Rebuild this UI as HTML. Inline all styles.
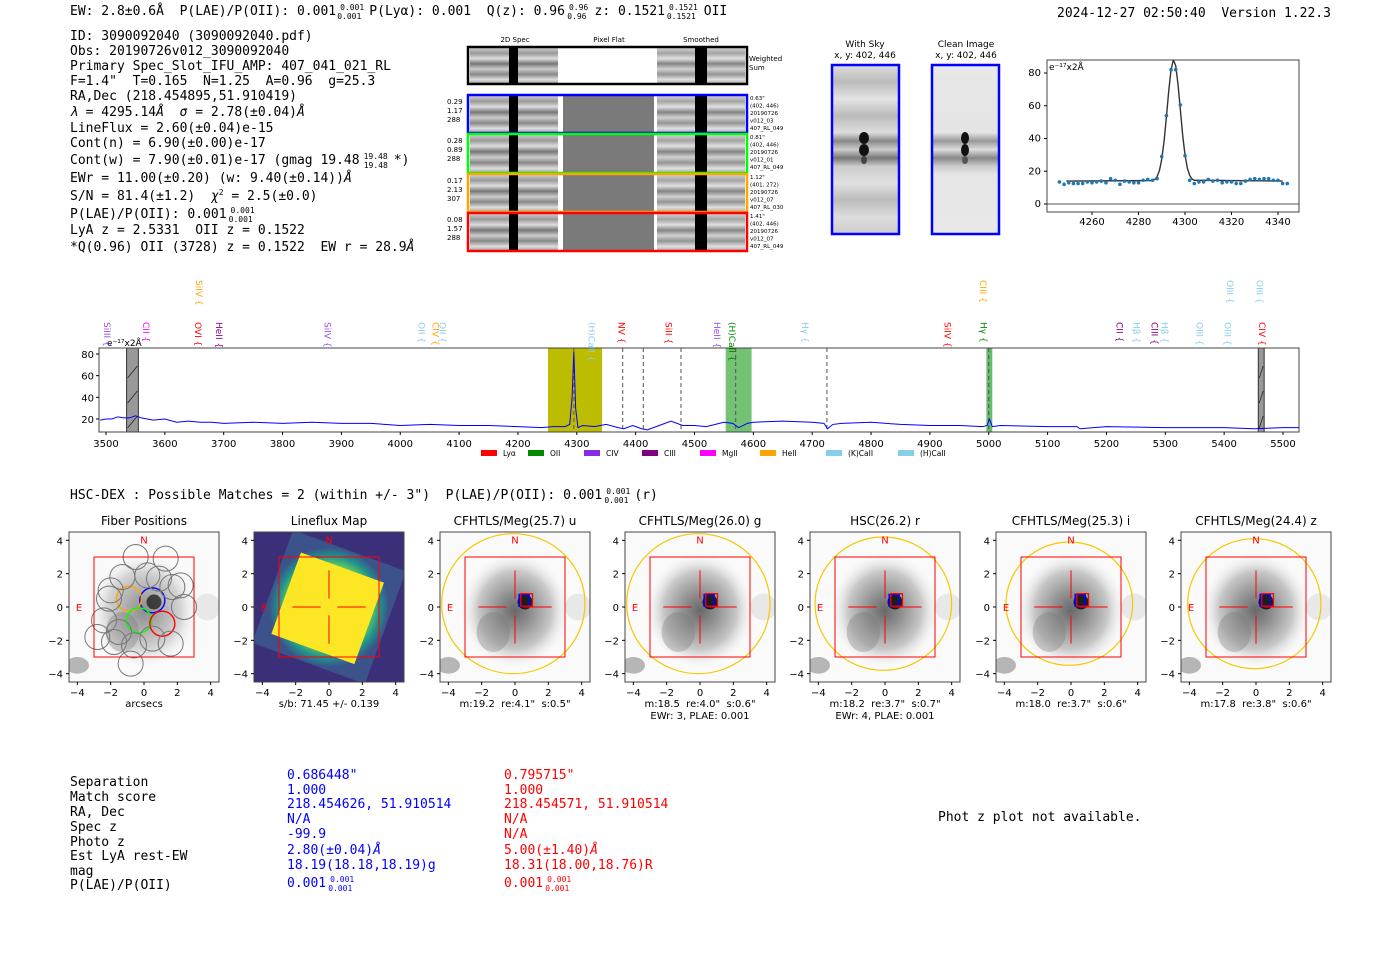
<!DOCTYPE html>
<html><head><meta charset="utf-8"><style>
html,body{margin:0;padding:0;background:#fff;width:1400px;height:953px;overflow:hidden}
svg{display:block}
text{white-space:pre}
.m{font-family:"DejaVu Sans Mono","Liberation Mono",monospace;font-size:13px;fill:#000;white-space:pre}
.s{font-family:"DejaVu Sans","Liberation Sans",sans-serif}
.tk{font-family:"DejaVu Sans","Liberation Sans",sans-serif;font-size:10px;fill:#000}
</style></head><body>
<svg id="root" width="1400" height="953" viewBox="0 0 1400 953" xmlns="http://www.w3.org/2000/svg" xml:space="preserve">
<defs>
<linearGradient id="bands" x1="0" y1="0" x2="0" y2="1">
<stop offset="0" stop-color="#ccc"/><stop offset=".15" stop-color="#999"/><stop offset=".3" stop-color="#ddd"/><stop offset=".45" stop-color="#777"/><stop offset=".6" stop-color="#ccc"/><stop offset=".75" stop-color="#888"/><stop offset=".9" stop-color="#ddd"/><stop offset="1" stop-color="#aaa"/>
</linearGradient>
<linearGradient id="skyb" x1="0" y1="0" x2="0" y2="1">
<stop offset="0" stop-color="#ddd"/><stop offset=".1" stop-color="#bbb"/><stop offset=".2" stop-color="#e4e4e4"/><stop offset=".3" stop-color="#bbb"/><stop offset=".4" stop-color="#ddd"/><stop offset=".45" stop-color="#888"/><stop offset=".5" stop-color="#ccc"/><stop offset=".55" stop-color="#777"/><stop offset=".6" stop-color="#ccc"/><stop offset=".7" stop-color="#e0e0e0"/><stop offset=".8" stop-color="#bbb"/><stop offset=".9" stop-color="#ddd"/><stop offset="1" stop-color="#ccc"/>
</linearGradient>
<linearGradient id="cleanb" x1="0" y1="0" x2="0" y2="1">
<stop offset="0" stop-color="#e8e8e8"/><stop offset=".4" stop-color="#e4e4e4"/><stop offset=".45" stop-color="#999"/><stop offset=".5" stop-color="#ddd"/><stop offset=".55" stop-color="#888"/><stop offset=".6" stop-color="#ccc"/><stop offset=".65" stop-color="#e6e6e6"/><stop offset="1" stop-color="#e8e8e8"/>
</linearGradient>
<radialGradient id="gal"><stop offset="0" stop-color="#444"/><stop offset=".3" stop-color="#777"/><stop offset=".65" stop-color="#bbb"/><stop offset="1" stop-color="#fff" stop-opacity="0"/></radialGradient>
<radialGradient id="lf"><stop offset="0" stop-color="#fde725"/><stop offset=".55" stop-color="#fde725"/><stop offset=".7" stop-color="#5ec962"/><stop offset=".85" stop-color="#21918c"/><stop offset="1" stop-color="#3b528b"/></radialGradient>
</defs>

<g>
<text class="m" x="70" y="15">EW: 2.8±0.6Å  P(LAE)/P(OII): 0.001<tspan font-size="8" dx="4" dy="-5">0.001</tspan><tspan font-size="8" dx="-27" dy="9">0.001</tspan><tspan dx="8" dy="-4">P(Lyα): 0.001  Q(z): 0.96</tspan><tspan font-size="8" dx="4" dy="-5">0.96</tspan><tspan font-size="8" dx="-21" dy="9">0.96</tspan><tspan dx="8" dy="-4">z: 0.1521</tspan><tspan font-size="8" dx="4" dy="-5">0.1521</tspan><tspan font-size="8" dx="-31" dy="9">0.1521</tspan><tspan dx="8" dy="-4">OII</tspan></text>
<text class="m" x="1057" y="17">2024-12-27 02:50:40  Version 1.22.3</text>
</g>

<g>
<text class="m" x="70" y="40">ID: 3090092040 (3090092040.pdf)</text>
<text class="m" x="70" y="55">Obs: 20190726v012_3090092040</text>
<text class="m" x="70" y="70">Primary Spec_Slot_IFU_AMP: 407_041_021_RL</text>
<text class="m" x="70" y="85">F=1.4"  T=0.165  N=1.25  A=0.96  g=25.3</text>
<text class="m" x="70" y="100">RA,Dec (218.454895,51.910419)</text>
<text class="m" x="70" y="116"><tspan font-style="italic">λ</tspan> = 4295.14<tspan font-style="italic">Å</tspan>  <tspan font-style="italic">σ</tspan> = 2.78(±0.04)<tspan font-style="italic">Å</tspan></text>
<text class="m" x="70" y="132">LineFlux = 2.60(±0.04)e-15</text>
<text class="m" x="70" y="147">Cont(n) = 6.90(±0.00)e-17</text>
<text class="m" x="70" y="164">Cont(w) = 7.90(±0.01)e-17 (gmag 19.48<tspan font-size="8" dx="4" dy="-5">19.48</tspan><tspan font-size="8" dx="-24" dy="9">19.48</tspan><tspan dx="6" dy="-4">*)</tspan></text>
<text class="m" x="70" y="182">EWr = 11.00(±0.20) (w: 9.40(±0.14))<tspan font-style="italic">Å</tspan></text>
<text class="m" x="70" y="200">S/N = 81.4(±1.2)  <tspan font-style="italic">χ</tspan><tspan font-size="8" dy="-5">2</tspan><tspan dy="5"> = 2.5(±0.0)</tspan></text>
<text class="m" x="70" y="218">P(LAE)/P(OII): 0.001<tspan font-size="8" dx="4" dy="-5">0.001</tspan><tspan font-size="8" dx="-26" dy="9">0.001</tspan></text>
<text class="m" x="70" y="234">LyA z = 2.5331  OII z = 0.1522</text>
<text class="m" x="70" y="251">*Q(0.96) OII (3728) z = 0.1522  EW r = 28.9<tspan font-style="italic">Å</tspan></text>
</g>

<g id="cutouts" class="s">
<text x="515" y="42" font-size="7" text-anchor="middle">2D Spec</text>
<text x="609" y="42" font-size="7" text-anchor="middle">Pixel Flat</text>
<text x="701" y="42" font-size="7" text-anchor="middle">Smoothed</text>
<text x="749" y="61" font-size="7">Weighted</text>
<text x="749" y="70" font-size="7">Sum</text>
</g>

<g class="s">
<text x="865" y="47" font-size="9" text-anchor="middle">With Sky</text>
<text x="865" y="58" font-size="9" text-anchor="middle">x, y: 402, 446</text>
<rect x="832" y="65" width="67" height="169" fill="url(#skyb)"/>
<ellipse cx="864" cy="138" rx="5" ry="6" fill="#111"/><ellipse cx="864" cy="150" rx="5" ry="6" fill="#111"/><ellipse cx="864" cy="160" rx="3" ry="4" fill="#444"/>
<rect x="832" y="65" width="67" height="169" fill="none" stroke="#00f" stroke-width="2.5"/>
</g>
<g class="s">
<text x="966" y="47" font-size="9" text-anchor="middle">Clean Image</text>
<text x="966" y="58" font-size="9" text-anchor="middle">x, y: 402, 446</text>
<rect x="932" y="65" width="67" height="169" fill="url(#cleanb)"/>
<ellipse cx="965" cy="138" rx="4" ry="6" fill="#111"/><ellipse cx="965" cy="150" rx="4" ry="6" fill="#111"/><ellipse cx="965" cy="160" rx="3" ry="4" fill="#555"/>
<rect x="932" y="65" width="67" height="169" fill="none" stroke="#00f" stroke-width="2.5"/>
</g>

<g id="inset"></g>
<g id="spec"></g>

<text class="m" x="70" y="499">HSC-DEX : Possible Matches = 2 (within +/- 3")  P(LAE)/P(OII): 0.001<tspan font-size="8" dx="4" dy="-5">0.001</tspan><tspan font-size="8" dx="-26" dy="9">0.001</tspan><tspan dx="6" dy="-4">(r)</tspan></text>
<g id="panels"></g>

<g>
<g class="m">
<text class="m" x="70" y="786">Separation</text><text class="m" x="70" y="801">Match score</text><text class="m" x="70" y="816">RA, Dec</text><text class="m" x="70" y="831">Spec z</text><text class="m" x="70" y="846">Photo z</text><text class="m" x="70" y="860">Est LyA rest-EW</text><text class="m" x="70" y="875">mag</text><text class="m" x="70" y="889">P(LAE)/P(OII)</text>
</g>
<g>
<text class="m" x="287" y="779" style="fill:#00f">0.686448"</text><text class="m" x="287" y="794" style="fill:#00f">1.000</text><text class="m" x="287" y="808" style="fill:#00f">218.454626, 51.910514</text><text class="m" x="287" y="823" style="fill:#00f">N/A</text><text class="m" x="287" y="838" style="fill:#00f">-99.9</text><text class="m" x="287" y="854" style="fill:#00f">2.80(±0.04)<tspan font-style="italic">Å</tspan></text><text class="m" x="287" y="869" style="fill:#00f">18.19(18.18,18.19)g</text><text class="m" x="287" y="887" style="fill:#00f">0.001<tspan font-size="8" dx="4" dy="-5">0.001</tspan><tspan font-size="8" dx="-26" dy="9">0.001</tspan></text>
</g>
<g>
<text class="m" x="504" y="779" style="fill:#f00">0.795715"</text><text class="m" x="504" y="794" style="fill:#f00">1.000</text><text class="m" x="504" y="808" style="fill:#f00">218.454571, 51.910514</text><text class="m" x="504" y="823" style="fill:#f00">N/A</text><text class="m" x="504" y="838" style="fill:#f00">N/A</text><text class="m" x="504" y="854" style="fill:#f00">5.00(±1.40)<tspan font-style="italic">Å</tspan></text><text class="m" x="504" y="869" style="fill:#f00">18.31(18.00,18.76)R</text><text class="m" x="504" y="887" style="fill:#f00">0.001<tspan font-size="8" dx="4" dy="-5">0.001</tspan><tspan font-size="8" dx="-26" dy="9">0.001</tspan></text>
</g>
<text class="m" x="938" y="821">Phot z plot not available.</text>
</g>
</svg>
<script>
const specWave = [3490,3500,3510,3520,3530,3540,3550,3560,3580,3600,3620,3640,3660,3680,3700,3750,3800,3850,3900,3950,4000,4050,4100,4150,4200,4240,4260,4280,4288,4292,4295,4298,4302,4310,4330,4350,4370,4380,4395,4410,4420,4440,4460,4480,4500,4520,4550,4565,4575,4590,4600,4650,4700,4720,4726,4735,4750,4800,4850,4900,4950,4990,4997,5001,5006,5020,5100,5150,5155,5200,5300,5400,5450,5500,5527];
const specFlux = [19,20,20,22,21,21,23,21,19,20,17,18,17,17,16,17,16,17,16,16,14,15,14,14,13,12,13,13,15,40,82,30,12,14,13,15,12,11,14,11,10,14,18,14,14,13,17,16,12,16,17,18,17,16,11,15,16,17,15,14,14,13,14,20,13,14,13,13,11,13,12,12,11,12,12];
const specXTicks = [3500,3600,3700,3800,3900,4000,4100,4200,4300,4400,4500,4600,4700,4800,4900,5000,5100,5200,5300,5400,5500];
const specYTicks = [20,40,60,80];
const lineNames = ["SiIII","CII","OVI","HeII","SiIV","OII","CIV","OII","(H)CaII","NV","SiII","HeII","(H)CaII","Hγ","SiIV","Hγ","CII","Hβ","CIII","Hβ","OIII","OIII","CIV","SiIV","CIII","OIII","OIII"];
const lineWave = [3502,3568,3656,3692,3876,4036,4060,4072,4325,4376,4456,4538,4564,4688,4930,4991,5222,5251,5282,5299,5358,5406,5464,3658,4990,5410,5460];
const lineRow = [0,0,0,0,0,0,0,0,0,0,0,0,0,0,0,0,0,0,0,0,0,0,0,1,1,1,1];
const lineColor = ["#9b4ee8","#f0f","#f00","#8b008b","#9b4ee8","#87ceeb","#ffa500","#87ceeb","#87ceeb","#f00","#f00","#9b4ee8","#080","#87ceeb","#f00","#080","#800080","#87ceeb","#800080","#87ceeb","#87ceeb","#87ceeb","#f00","#ffa500","#ffa500","#87ceeb","#87ceeb"];
const dashWave = [4295,4378,4413,4477,4570,4725,5000];
const legendNames = ["Lyα","OII","CIV","CIII","MgII","HeII","(K)CaII","(H)CaII"];
const legendColors = ["#f00","#080","#8a2be2","#800080","#f0f","#ffa500","#87ceeb","#87ceeb"];

const fitWave = [4246,4248,4250,4252,4254,4256,4258,4260,4262,4264,4266,4268,4270,4272,4274,4276,4278,4280,4282,4284,4286,4288,4290,4292,4294,4296,4298,4300,4302,4304,4306,4308,4310,4312,4314,4316,4318,4320,4322,4324,4326,4328,4330,4332,4334,4336,4338,4340,4342,4344];
const fitFlux = [13.5,12,13,12.5,12.5,12.5,13.5,13,13.5,14,13,15.5,14.5,12,14,13.5,13,13,14.5,15,14.5,15.5,29,54,82,82,60.5,29.5,14.5,12.5,13.5,13.5,15,14,14.5,13,13.5,13.5,12.5,12.5,14,15,15.5,15,15.5,15.5,14.5,14.5,12.5,12.5];
const modelWave = [4249,4286,4287,4288,4289,4290,4291,4292,4293,4294,4295,4296,4297,4298,4299,4300,4301,4302,4303,4304,4342];
const modelFlux = [14,14.3,15,16.7,20.4,27.4,38.4,53,69,82,88,84.5,73,57.6,42,30,22,17.5,15.3,14.5,14];
const insetXTicks = [4260,4280,4300,4320,4340];
const insetYTicks = [0,20,40,60,80];

const NS='http://www.w3.org/2000/svg';
function mk(parent, tag, attrs, txt){
  const el=document.createElementNS(NS,tag);
  for(const k in attrs) el.setAttribute(k,attrs[k]);
  if(txt!==undefined) el.textContent=txt;
  parent.appendChild(el);
  return el;
}

(function(){
  const g=document.getElementById('cutouts');
  const rows=[{y:47,h:37,c:'#000',l:null,r:null},
    {y:95,h:38,c:'#00f',l:['0.29','1.17','288'],r:['0.63"','(402, 446)','20190726','v012_03','407_RL_049']},
    {y:134,h:39,c:'#0f0',l:['0.28','0.89','288'],r:['0.81"','(402, 446)','20190726','v012_01','407_RL_049']},
    {y:174,h:38,c:'#ffa500',l:['0.17','2.13','307'],r:['1.12"','(401, 272)','20190726','v012_07','407_RL_030']},
    {y:213,h:38,c:'#f00',l:['0.08','1.57','288'],r:['1.41"','(402, 446)','20190726','v012_07','407_RL_049']}];
  rows.forEach((r,i)=>{
    const cell=mk(g,'g',{});
    
    
    mk(cell,'rect',{x:470,y:r.y+1,width:88,height:r.h-2,fill:'url(#bands)'});
    mk(cell,'rect',{x:509,y:r.y+1,width:9,height:r.h-2,fill:'#000'});
    mk(cell,'rect',{x:563,y:r.y+1,width:91,height:r.h-2,fill:i===0?'#fff':'#7a7a7a'});
    mk(cell,'rect',{x:657,y:r.y+1,width:88,height:r.h-2,fill:'url(#bands)',opacity:0.9});
    mk(cell,'rect',{x:695,y:r.y+1,width:12,height:r.h-2,fill:'#000'});
    mk(cell,'rect',{x:468,y:r.y,width:279,height:r.h,fill:'none',stroke:r.c,'stroke-width':2.5});
    if(r.l) r.l.forEach((t,j)=>mk(cell,'text',{x:447,y:r.y+9+j*9,'font-size':7},t));
    if(r.r) r.r.forEach((t,j)=>mk(cell,'text',{x:750,y:r.y+5+j*7.5,'font-size':5.5},t));
  });
})();

(function(){
  const g=document.getElementById('inset');
  const L=1047,R=1299,T=60,B=212;
  const x=w=>1092+(w-4260)*(1278-1092)/80;
  const y=v=>204-v*(204-73)/80;
  mk(g,'rect',{x:L,y:T,width:R-L,height:B-T,fill:'#fff',stroke:'#444','stroke-width':1});
  mk(g,'line',{x1:L,x2:R,y1:y(0),y2:y(0),stroke:'#555','stroke-width':1});
  insetXTicks.forEach(t=>{mk(g,'line',{x1:x(t),x2:x(t),y1:B,y2:B+3,stroke:'#000'});
    const tx=mk(g,'text',{class:'tk',x:x(t),y:B+13,'text-anchor':'middle','font-size':9},String(t));
    
    });
  insetYTicks.forEach(t=>{mk(g,'line',{x1:L-3,x2:L,y1:y(t),y2:y(t),stroke:'#000'});
    const ty=mk(g,'text',{class:'tk',x:L-6,y:y(t)+3,'text-anchor':'end','font-size':9},String(t));
    
    });
  const cp=mk(g,'clipPath',{id:'insclip'}); mk(cp,'rect',{x:L,y:T,width:R-L,height:B-T});
  const fit=mk(g,'polyline',{points:modelWave.map((w,i)=>x(w)+','+y(modelFlux[i])).join(' '),fill:'none',stroke:'#333','stroke-width':1.4,'clip-path':'url(#insclip)'});
  
  
  fitWave.forEach((w,i)=>{const c=mk(g,'circle',{cx:x(w),cy:y(fitFlux[i]),r:1.8,fill:'#1f77b4'});
    
    });
  mk(g,'text',{class:'s',x:L+2,y:T+10,'font-size':9},'e⁻¹⁷x2Å');
})();

(function(){
  const g=document.getElementById('spec');
  const L=99,R=1299,T=348,B=432;
  const x=w=>106+(w-3500)*(1283-106)/2000;
  const y=v=>419-(v-20)*(419-354)/60;
  mk(g,'rect',{x:L,y:T,width:R-L,height:B-T,fill:'#fff'});
  const sh=mk(g,'rect',{x:x(4251),y:T,width:x(4343)-x(4251),height:B-T,fill:'#bcbc00'});
  
  
  const sh2=mk(g,'rect',{x:x(4553),y:T,width:x(4597)-x(4553),height:B-T,fill:'#5cb85c',opacity:0.85});
  
  
  const sh3=mk(g,'rect',{x:x(4996),y:T,width:x(5006)-x(4996),height:B-T,fill:'#4caf50',opacity:0.85});
  
  
  [[3535,3555],[5458,5468]].forEach(r=>{const m=mk(g,'rect',{x:x(r[0]),y:T,width:x(r[1])-x(r[0]),height:B-T,fill:'#999',stroke:'#333','stroke-width':1});
    
    
    for(let k=0;k<3;k++) mk(g,'line',{x1:x(r[0])+1,y1:T+30+k*25,x2:x(r[1])-1,y2:T+18+k*25,stroke:'#222','stroke-width':0.8});});
  dashWave.forEach(w=>{const d=mk(g,'line',{x1:x(w),x2:x(w),y1:T,y2:B,stroke:'#555','stroke-dasharray':'4,3','stroke-width':1});
    
    });
  const sp=mk(g,'polyline',{points:specWave.map((w,i)=>x(w)+','+y(specFlux[i])).join(' '),fill:'none',stroke:'#00f','stroke-width':1});
  
  
  mk(g,'rect',{x:L,y:T,width:R-L,height:B-T,fill:'none',stroke:'#444','stroke-width':1});
  specXTicks.forEach(t=>{mk(g,'line',{x1:x(t),x2:x(t),y1:B,y2:B+3,stroke:'#000'});
    const tx=mk(g,'text',{class:'tk',x:x(t),y:B+15,'text-anchor':'middle'},String(t));
    
    });
  specYTicks.forEach(t=>{mk(g,'line',{x1:L-3,x2:L,y1:y(t),y2:y(t),stroke:'#000'});
    const ty=mk(g,'text',{class:'tk',x:L-5,y:y(t)+4,'text-anchor':'end'},String(t));
    
    });
  mk(g,'text',{class:'s',x:107,y:346,'font-size':9},'e⁻¹⁷x2Å');
  lineNames.forEach((n,i)=>{
    const px=x(lineWave[i]); const py=lineRow[i]?280:322;
    const t=mk(g,'text',{class:'s','font-size':9,fill:lineColor[i],transform:`translate(${px-3},${py}) rotate(90)`},n+' {');
    
    
  });
  let lx=481;
  const lw=[47,56,58,58,60,66,72,60];
  legendNames.forEach((n,i)=>{
    const e=mk(g,'g',{});
    
    
    mk(e,'rect',{x:lx,y:450,width:16,height:6,fill:legendColors[i]});
    mk(e,'text',{class:'s',x:lx+22,y:456,'font-size':7.5},n);
    lx+=lw[i];
  });
})();

const panelTitles = ["Fiber Positions","Lineflux Map","CFHTLS/Meg(25.7) u","CFHTLS/Meg(26.0) g","HSC(26.2) r","CFHTLS/Meg(25.3) i","CFHTLS/Meg(24.4) z"];
const panelNotes1 = ["arcsecs","s/b: 71.45 +/- 0.139",'m:19.2  re:4.1"  s:0.5"','m:18.5  re:4.0"  s:0.6"','m:18.2  re:3.7"  s:0.7"','m:18.0  re:3.7"  s:0.6"','m:17.8  re:3.8"  s:0.6"'];
const panelNotes2 = ["","","","EWr: 3, PLAE: 0.001","EWr: 4, PLAE: 0.001","",""];
const ellipseR = [0,0,4.3,4.3,4.1,3.8,4.0];
const fiberX = [0.5,-0.9,-0.3,1.1,-0.5,-1.3,0.2,1.7,-2.1,-2.4,-1.5,0.5,2.4,-2.8,-1.8,-0.6,1.6,-0.8,1.3,2.2,-2.0,0.9];
const fiberY = [0.4,0.5,-0.8,-1.0,3.0,1.8,1.9,1.2,0.5,-0.8,-1.5,-1.9,0.0,-1.8,-2.1,-2.3,-2.2,-3.4,2.9,1.3,1.0,1.7];
const fiberC = ["#00f","#ffa500","#0f0","#f00"];
(function(){
  const root=document.getElementById('panels');
  const lefts=[69,254,440,625,810,996,1181];
  const T=532,S=150,k=S/9;
  lefts.forEach((L,i)=>{
    const g=mk(root,'g',{});
    
    
    const X=a=>L+(a+4.5)*k, Y=a=>T+(4.5-a)*k;
    const cid='pc'+i; const cp=mk(g,'clipPath',{id:cid}); mk(cp,'rect',{x:L,y:T,width:S,height:S});
    const im=mk(g,'g',{'clip-path':`url(#${cid})`});
    if(i===1){
      mk(im,'rect',{x:L,y:T,width:S,height:S,fill:'#3b2f7a'});
      mk(im,'rect',{x:X(-3.6),y:Y(3.6),width:7.2*k,height:7.2*k,fill:'url(#lf)',transform:`rotate(20 ${X(0)} ${Y(0)})`});
      mk(im,'rect',{x:X(-2.7),y:Y(2.5),width:5.3*k,height:5.2*k,fill:'#fde725',transform:`rotate(20 ${X(0)} ${Y(0)})`});
    } else {
      mk(im,'rect',{x:L,y:T,width:S,height:S,fill:'#fafafa'});
      mk(im,'ellipse',{cx:X(0),cy:Y(-0.2),rx:3.4*k,ry:3.6*k,fill:'url(#gal)',opacity:i===0?0.6:0.8});
      mk(im,'ellipse',{cx:X(-1.3),cy:Y(-1.5),rx:1.0*k,ry:1.2*k,fill:'#777',opacity:0.35});
      mk(im,'circle',{cx:X(0.6),cy:Y(0.3),r:0.45*k,fill:'#111',opacity:i===0?0.7:0.9});
      mk(im,'ellipse',{cx:X(-4),cy:Y(-3.5),rx:0.7*k,ry:0.5*k,fill:'#888',opacity:0.6});
      mk(im,'ellipse',{cx:X(3.8),cy:Y(0),rx:0.8*k,ry:0.8*k,fill:'#ccc',opacity:0.4});
    }
    if(i===0){
      fiberX.forEach((fx,j)=>{const c=mk(g,'circle',{cx:X(fx),cy:Y(fiberY[j]),r:0.75*k,fill:'none',stroke:j<4?fiberC[j]:'#777','stroke-width':j<4?1.4:1});
        
        });
    }
    if(ellipseR[i]){const e=mk(g,'ellipse',{cx:X(-0.1),cy:Y(0.2),rx:ellipseR[i]*k,ry:(ellipseR[i]-0.1)*k,fill:'none',stroke:'#f5c800','stroke-width':1.2,'clip-path':`url(#${cid})`});
      
      }
    mk(g,'rect',{x:X(-3),y:Y(3),width:6*k,height:6*k,fill:'none',stroke:'#f00','stroke-width':1});
    if(i>0){
      [[-2.2,-0.5],[0.5,2.2]].forEach(s=>mk(g,'line',{x1:X(s[0]),x2:X(s[1]),y1:Y(0),y2:Y(0),stroke:'#f00'}));
      [[0.5,2.2],[-2.2,-0.5]].forEach(s=>mk(g,'line',{x1:X(0),x2:X(0),y1:Y(s[0]),y2:Y(s[1]),stroke:'#f00'}));
    }
    if(i>1){
      mk(g,'rect',{x:X(0.25),y:Y(0.75),width:0.6*k,height:0.7*k,fill:'none',stroke:'#00f','stroke-width':1.5});
      mk(g,'rect',{x:X(0.35),y:Y(0.8),width:0.7*k,height:0.75*k,fill:'none',stroke:'#f00','stroke-width':1.2});
    }
    mk(g,'text',{class:'s',x:X(0),y:Y(3.8),'font-size':10,fill:'#f00','text-anchor':'middle'},'N');
    mk(g,'text',{class:'s',x:X(-3.9),y:Y(0)+4,'font-size':10,fill:'#f00','text-anchor':'middle'},'E');
    mk(g,'rect',{x:L,y:T,width:S,height:S,fill:'none',stroke:'#444','stroke-width':1});
    [-4,-2,0,2,4].forEach(t=>{
      mk(g,'line',{x1:X(t),x2:X(t),y1:T+S,y2:T+S+3,stroke:'#000'});
      mk(g,'text',{class:'tk',x:X(t),y:T+S+14,'text-anchor':'middle'},t<0?'−'+(-t):String(t));
      mk(g,'line',{x1:L-3,x2:L,y1:Y(t),y2:Y(t),stroke:'#000'});
      mk(g,'text',{class:'tk',x:L-6,y:Y(t)+4,'text-anchor':'end'},t<0?'−'+(-t):String(t));
    });
    const ti=mk(g,'text',{class:'s',x:L+S/2,y:T-7,'font-size':12,'text-anchor':'middle'},panelTitles[i]);
    
    
    mk(g,'text',{class:'s',x:L+S/2,y:T+S+25,'font-size':10,'text-anchor':'middle'},panelNotes1[i]);
    if(panelNotes2[i]) mk(g,'text',{class:'s',x:L+S/2,y:T+S+37,'font-size':10,'text-anchor':'middle'},panelNotes2[i]);
  });
})();
</script>
</body></html>
